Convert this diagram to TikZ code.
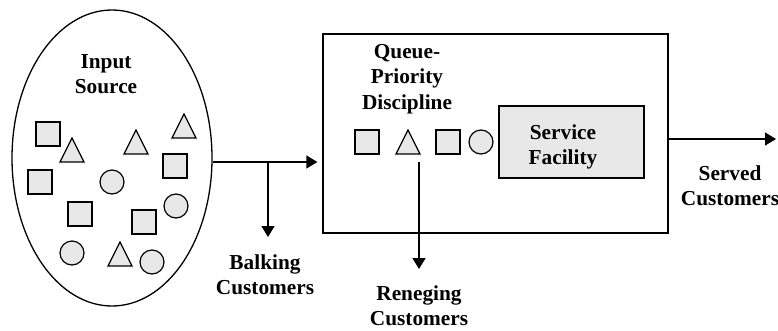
\documentclass[tikz,border=0pt]{standalone}
\usepackage{fontspec}
\setmainfont{Liberation Serif}
\usetikzlibrary{arrows.meta,shapes.geometric}
\definecolor{shade}{HTML}{E8E8E8}
\tikzset{
  every picture/.style={x=1pt,y=-1pt},
  lbl/.style={font=\fontsize{21.3}{25.3}\selectfont\bfseries, align=center, inner sep=0pt},
  item/.style={draw, line width=1.2pt, fill=shade},
  flow/.style={line width=1.3pt, -{Triangle[length=11pt,width=13pt]}},
  sq/.style={item, minimum size=24pt, inner sep=0pt, shape=rectangle},
  ci/.style={item, circle, minimum size=24pt, inner sep=0pt},
}
\newcommand{\tri}[3]{% name, x, y (centre of box)
  \draw[item] (#2-12,#3+12) -- (#2+12,#3+12) -- (#2,#3-12) -- cycle;
  \coordinate (#1) at (#2,#3);}
\begin{document}
\begin{tikzpicture}
\useasboundingbox (0,0) rectangle (778,330);

% input source population
\node[draw, ellipse, line width=1.3pt, minimum width=200pt, minimum height=296pt, inner sep=0pt] (src) at (112,158) {};
\node[lbl] (srclbl) at (106,74) {Input\\Source};

\node[sq] (s1) at (48,134) {};
\node[sq] (s2) at (40,182) {};
\node[sq] (s3) at (175,166) {};
\node[sq] (s4) at (80,214) {};
\node[sq] (s5) at (144,222) {};
\node[ci] (c1) at (112,182) {};
\node[ci] (c2) at (176,206) {};
\node[ci] (c3) at (72,253) {};
\node[ci] (c4) at (152,262) {};
\tri{t1}{72}{150}
\tri{t2}{136}{142}
\tri{t3}{184}{126}
\tri{t4}{120}{254}

% queueing system
\node[draw, line width=1.3pt, minimum width=345pt, minimum height=199pt, inner sep=0pt] (sys) at (495.5,133.5) {};
\node[lbl] (qlbl) at (407,79) {Queue-\\Priority\\Discipline};
\node[sq] (q1) at (367,142) {};
\tri{q2}{408}{142}
\node[sq] (q3) at (448,142) {};
\node[ci] (q4) at (481,142) {};

\node[draw, line width=1.3pt, fill=shade, minimum width=145pt, minimum height=72pt, inner sep=0pt] (svc) at (571.5,142) {};
\node[lbl] (svclbl) at (563,147) {Service\\Facility};

% flows
\coordinate (split) at (268,162);
\coordinate (balk) at (268,237);
\coordinate (ren0) at (419,162);
\coordinate (ren) at (419,269);
\coordinate (out) at (776,139);
\draw[flow, shorten >=5pt] (src.east |- split) -- (sys.west |- split);
\draw[flow] (split) -- (balk);
\draw[flow] (ren0) -- (ren);
\draw[flow] (sys.east |- out) -- (out);

\node[lbl] (balklbl) at (265,275) {Balking\\Customers};
\node[lbl] (renlbl) at (419,306) {Reneging\\Customers};
\node[lbl] (servlbl) at (730,186) {Served\\Customers};
\end{tikzpicture}
\end{document}
